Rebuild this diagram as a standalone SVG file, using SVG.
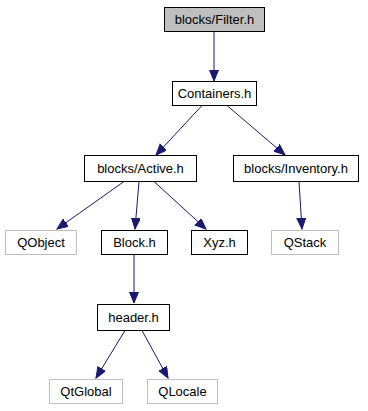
<svg xmlns="http://www.w3.org/2000/svg" width="368" height="411" viewBox="0 0 368 411">
  <style>
    .node rect { fill: #ffffff; stroke: #000000; stroke-width: 1; }
    .node.ext rect { stroke: #bfbfbf; }
    .node.root rect { fill: #bfbfbf; }
    .node text { font-family: "Liberation Sans", Arial, sans-serif; font-size: 13px; fill: #000000; text-anchor: middle; }
    .edge { stroke: #191970; stroke-width: 1; fill: none; marker-end: url(#arrow); }
  </style>
  <defs>
    <marker id="arrow" markerUnits="userSpaceOnUse" markerWidth="13" markerHeight="11" refX="11" refY="4.5" orient="auto">
      <path d="M0,0 L11,4.5 L0,9 Z" fill="#191970" stroke="#191970"/>
    </marker>
  </defs>
  <rect width="368" height="411" fill="#ffffff"/>

  <g id="edges">
    <line class="edge" x1="214" y1="31.5" x2="214" y2="81"/>
    <line class="edge" x1="202" y1="105.5" x2="156" y2="155"/>
    <line class="edge" x1="227" y1="105.5" x2="285" y2="155"/>
    <line class="edge" x1="124" y1="181.5" x2="57" y2="229"/>
    <line class="edge" x1="139" y1="181.5" x2="135" y2="229"/>
    <line class="edge" x1="154" y1="181.5" x2="206" y2="229"/>
    <line class="edge" x1="299" y1="181.5" x2="302" y2="229"/>
    <line class="edge" x1="134" y1="254.5" x2="134" y2="303"/>
    <line class="edge" x1="125" y1="330.5" x2="96" y2="378"/>
    <line class="edge" x1="142" y1="330.5" x2="168" y2="378"/>
  </g>

  <g id="filter" class="node root">
    <rect x="164.5" y="7.5" width="100" height="24"/>
    <text x="214.5" y="24">blocks/Filter.h</text>
  </g>
  <g id="containers" class="node">
    <rect x="172.5" y="81.5" width="84" height="24"/>
    <text x="214.5" y="98">Containers.h</text>
  </g>
  <g id="active" class="node">
    <rect x="84.5" y="155.5" width="112" height="26"/>
    <text x="140.5" y="173">blocks/Active.h</text>
  </g>
  <g id="inventory" class="node">
    <rect x="233.5" y="155.5" width="125" height="26"/>
    <text x="296" y="173">blocks/Inventory.h</text>
  </g>
  <g id="qobject" class="node ext">
    <rect x="5.5" y="230.5" width="71" height="24"/>
    <text x="41" y="247">QObject</text>
  </g>
  <g id="block" class="node">
    <rect x="101.5" y="230.5" width="66" height="24"/>
    <text x="134.5" y="247">Block.h</text>
  </g>
  <g id="xyz" class="node">
    <rect x="191.5" y="230.5" width="56" height="24"/>
    <text x="219.5" y="247">Xyz.h</text>
  </g>
  <g id="qstack" class="node ext">
    <rect x="271.5" y="230.5" width="67" height="24"/>
    <text x="305" y="247">QStack</text>
  </g>
  <g id="header" class="node">
    <rect x="97.5" y="304.5" width="72" height="26"/>
    <text x="133.5" y="322">header.h</text>
  </g>
  <g id="qtglobal" class="node ext">
    <rect x="49.5" y="379.5" width="73" height="24"/>
    <text x="86" y="396">QtGlobal</text>
  </g>
  <g id="qlocale" class="node ext">
    <rect x="147.5" y="379.5" width="70" height="24"/>
    <text x="182.5" y="396">QLocale</text>
  </g>
</svg>
